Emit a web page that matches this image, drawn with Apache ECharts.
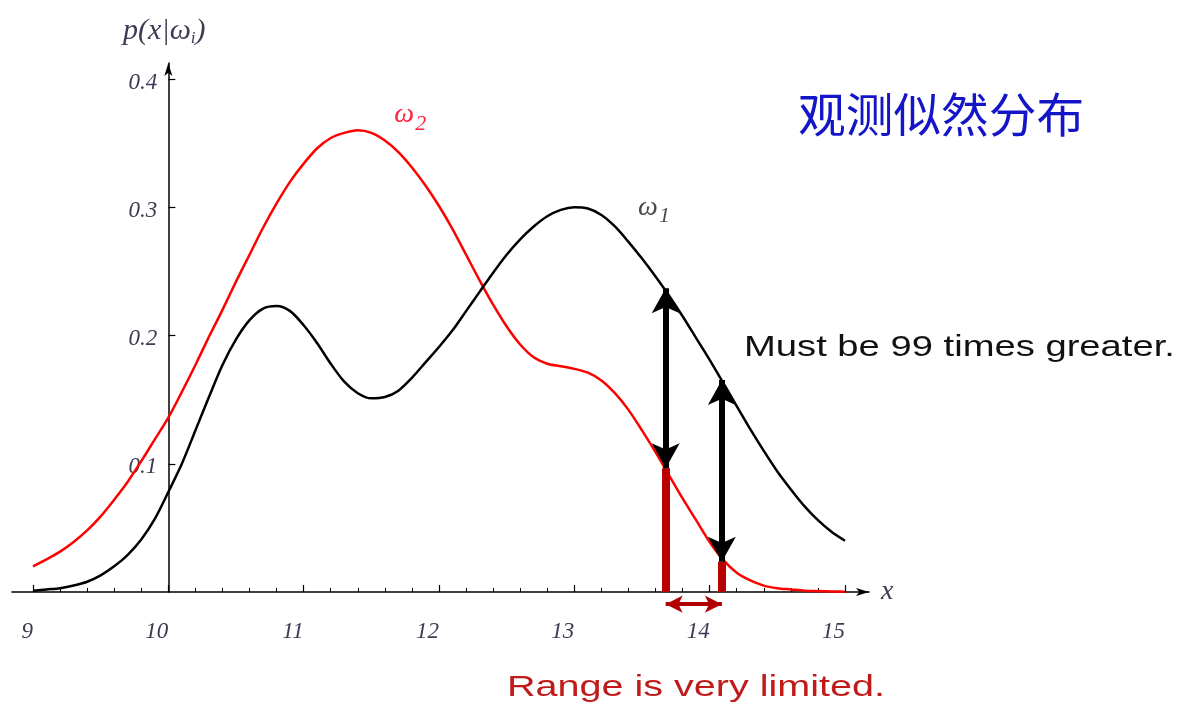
<!DOCTYPE html>
<html>
<head>
<meta charset="utf-8">
<script src="https://cdn.jsdelivr.net/npm/echarts@6/dist/echarts.min.js"></script>
<style>
html,body{margin:0;padding:0;background:#fff;}
#c{width:1187px;height:707px;}
</style>
</head>
<body>
<div id="c"></div>
<script>
// ---------- data ----------
const xValues = [9.0, 9.1, 9.2, 9.3, 9.4, 9.5, 9.6, 9.7, 9.8, 9.9,
                 10.0, 10.1, 10.2, 10.3, 10.4, 10.5, 10.6, 10.7, 10.8, 10.9,
                 11.0, 11.1, 11.2, 11.3, 11.4, 11.5, 11.6, 11.7, 11.8, 11.9,
                 12.0, 12.1, 12.2, 12.3, 12.4, 12.5, 12.6, 12.7, 12.8, 12.9,
                 13.0, 13.1, 13.2, 13.3, 13.4, 13.5, 13.6, 13.7, 13.8, 13.9,
                 14.0, 14.1, 14.2, 14.3, 14.4, 14.5, 14.6, 14.7, 14.8, 14.9, 15.0];
const omega1 = [0.001, 0.002, 0.003, 0.005, 0.008, 0.013, 0.020, 0.029, 0.041, 0.057,
                0.078, 0.100, 0.126, 0.152, 0.177, 0.197, 0.212, 0.221, 0.223, 0.219,
                0.208, 0.194, 0.178, 0.164, 0.155, 0.151, 0.152, 0.157, 0.167, 0.179,
                0.191, 0.204, 0.219, 0.234, 0.249, 0.263, 0.275, 0.285, 0.293, 0.298,
                0.300, 0.299, 0.294, 0.285, 0.273, 0.260, 0.246, 0.231, 0.215, 0.198,
                0.181, 0.163, 0.145, 0.127, 0.110, 0.094, 0.080, 0.067, 0.056, 0.047, 0.040];
const omega2 = [0.020, 0.0255, 0.0315, 0.039, 0.048, 0.059, 0.072, 0.086, 0.102, 0.119,
                0.136, 0.156, 0.177, 0.199, 0.220, 0.242, 0.263, 0.284, 0.303, 0.320,
                0.334, 0.346, 0.354, 0.358, 0.360, 0.358, 0.352, 0.343, 0.331, 0.317,
                0.301, 0.283, 0.263, 0.243, 0.224, 0.207, 0.193, 0.183, 0.178, 0.176,
                0.174, 0.171, 0.165, 0.155, 0.142, 0.126, 0.109, 0.091, 0.073, 0.056,
                0.039, 0.025, 0.015, 0.009, 0.005, 0.003, 0.002, 0.001, 0.0007, 0.0004, 0.0002];
const xTickLabels = ['9', '10', '11', '12', '13', '14', '15'];
const yTickLabels = ['0.1', '0.2', '0.3', '0.4'];
const markX = [13.675, 14.09];        // positions of the two comparisons
const markRed = [0.0965, 0.0236];     // omega2 value there
const markBlack = [0.2368, 0.1653];   // omega1 value there
const rangeArrowY = -0.0095;          // level of the "range" arrow below the axis
const omega2LabelAt = [11.67, 0.372];
const omega1LabelAt = [13.47, 0.300];

// ---------- layout ----------
const W = 1187, H = 707;
const X_MIN = 9, X_MAX = 15, Y_MAX = 0.4, Y_DATA_MIN = -0.04;
const plotL = 33, plotR = 845, plotT = 79, plotB = 592;
const pxPerX = (plotR - plotL) / (X_MAX - X_MIN);
const pxPerY = (plotB - plotT) / Y_MAX;
const yAxisPx = plotL + (10 - X_MIN) * pxPerX;
const labelColor = '#3c3c55';
const SERIF = '"Liberation Serif", "DejaVu Serif", serif';

const chart = echarts.init(document.getElementById('c'), null, {renderer: 'canvas', width: W, height: H});

const blackHead = [21, 25];
const redHead = [13, 17];

const hidden = (gi, min, max) => ({type: 'value', gridIndex: gi, show: false, min: min, max: max});

const option = {
  animation: false,
  backgroundColor: '#ffffff',
  grid: [
    {left: plotL, right: W - plotR, top: plotT, bottom: H - (plotB - Y_DATA_MIN * pxPerY)},
    {left: plotL, right: W - plotR, top: plotT, bottom: H - plotB},
    {left: 12, right: W - 869, top: plotT, bottom: H - plotB},
    {left: yAxisPx, width: 100, top: plotT, bottom: H - plotB},
    {left: yAxisPx, width: 10, top: 63, bottom: H - plotB}
  ],
  xAxis: [
    hidden(0, X_MIN, X_MAX),
    {
      type: 'value', gridIndex: 1, min: X_MIN, max: X_MAX, interval: 1, position: 'bottom',
      axisLine: {show: false, onZero: false},
      axisTick: {show: true, inside: true, length: 7, lineStyle: {color: '#000', width: 1.2}},
      minorTick: {show: true, splitNumber: 5, length: 4, lineStyle: {color: '#000', width: 1}},
      splitLine: {show: false}, minorSplitLine: {show: false},
      axisLabel: {
        show: true, margin: 28, align: 'right',
        formatter: v => xTickLabels[Math.round(v - X_MIN)] || '',
        fontFamily: SERIF, fontStyle: 'italic', fontSize: 23, color: labelColor
      }
    },
    {
      type: 'value', gridIndex: 2, min: 0, max: 1,
      axisLine: {show: true, onZero: false, symbol: ['none', 'arrow'], symbolSize: [6, 13],
                 lineStyle: {color: '#000', width: 1.5}},
      axisTick: {show: false}, axisLabel: {show: false}, splitLine: {show: false},
      name: 'x', nameLocation: 'end', nameGap: 12,
      nameTextStyle: {fontFamily: SERIF, fontStyle: 'italic', fontSize: 28, color: labelColor}
    },
    hidden(3, 0, 1),
    hidden(4, 0, 1)
  ],
  yAxis: [
    hidden(0, Y_DATA_MIN, Y_MAX),
    hidden(1, 0, 1),
    hidden(2, 0, 1),
    {
      type: 'value', gridIndex: 3, min: 0, max: Y_MAX, interval: 0.1, position: 'left',
      axisLine: {show: false, onZero: false},
      axisTick: {show: true, inside: true, length: 7, lineStyle: {color: '#000', width: 1.2}},
      splitLine: {show: false},
      axisLabel: {
        show: true, margin: 11, showMinLabel: false,
        formatter: v => {
          const t = yTickLabels[Math.round(v * 10) - 1];
          return t ? '{t|' + t + '}' : '';
        },
        rich: {
          t: {fontFamily: SERIF, fontStyle: 'italic', fontSize: 23, color: labelColor,
              lineHeight: 23, padding: [7, 0, 0, 0]}
        }
      }
    },
    {
      type: 'value', gridIndex: 4, min: 0, max: 1, position: 'left',
      axisLine: {show: true, onZero: false, symbol: ['none', 'arrow'], symbolSize: [6, 13],
                 lineStyle: {color: '#000', width: 1.5}},
      axisTick: {show: false}, axisLabel: {show: false}, splitLine: {show: false},
      name: '{a|p(x|ω}{b|i}{a|)}', nameLocation: 'end', nameGap: 16,
      nameTextStyle: {
        padding: [0, 8, 0, 0],
        rich: {
          a: {fontFamily: SERIF, fontStyle: 'italic', fontSize: 30, lineHeight: 32, color: labelColor},
          b: {fontFamily: SERIF, fontStyle: 'italic', fontSize: 17, lineHeight: 16, verticalAlign: 'bottom', color: labelColor}
        }
      }
    }
  ],
  series: [
    {
      name: 'ω2', type: 'line', xAxisIndex: 0, yAxisIndex: 0, z: 2,
      data: xValues.map((x, i) => [x, omega2[i]]),
      smooth: 0.3, showSymbol: false, symbol: 'none',
      lineStyle: {color: '#ff0000', width: 2.5}
    },
    {
      name: 'ω1', type: 'line', xAxisIndex: 0, yAxisIndex: 0, z: 3,
      data: xValues.map((x, i) => [x, omega1[i]]),
      smooth: 0.3, showSymbol: false, symbol: 'none',
      lineStyle: {color: '#000000', width: 2.5}
    },
    {
      name: 'bars', type: 'line', xAxisIndex: 0, yAxisIndex: 0, z: 4, data: [],
      markLine: {
        silent: true, animation: false, symbol: ['none', 'none'],
        label: {show: false},
        lineStyle: {color: '#b80000', width: 8, type: 'solid'},
        emphasis: {disabled: true},
        data: markX.map((x, i) => [{coord: [x, 0]}, {coord: [x, markRed[i]]}])
      }
    },
    {
      name: 'gaps', type: 'line', xAxisIndex: 0, yAxisIndex: 0, z: 5, data: [],
      markLine: {
        silent: true, animation: false, symbol: ['arrow', 'arrow'], symbolSize: blackHead,
        label: {show: false},
        lineStyle: {color: '#000000', width: 6, type: 'solid'},
        itemStyle: {color: '#000000'},
        emphasis: {disabled: true},
        data: markX.map((x, i) => [{coord: [x, markRed[i]]}, {coord: [x, markBlack[i]]}])
      }
    },
    {
      name: 'range', type: 'line', xAxisIndex: 0, yAxisIndex: 0, z: 5, data: [],
      markLine: {
        silent: true, animation: false, symbol: ['arrow', 'arrow'], symbolSize: redHead,
        label: {show: false},
        lineStyle: {color: '#b00000', width: 4, type: 'solid'},
        itemStyle: {color: '#b00000'},
        emphasis: {disabled: true},
        data: [[{coord: [markX[0], rangeArrowY]}, {coord: [markX[1], rangeArrowY]}]]
      }
    }
  ]
};
chart.setOption(option);

// annotations
const p2 = chart.convertToPixel({gridIndex: 0}, omega2LabelAt);
const p1 = chart.convertToPixel({gridIndex: 0}, omega1LabelAt);
const txt = (x, y, text, font, fill, scaleX, align) => ({
  type: 'text', x: x, y: y, scaleX: scaleX || 1, silent: true, z: 10,
  style: {text: text, font: font, fill: fill, align: align || 'left', verticalAlign: 'middle'}
});
chart.setOption({
  graphic: [
    txt(798, 114, '观测似然分布', '47px "Noto Sans CJK SC"', '#1414c8', 1.015),
    txt(744, 348, 'Must be 99 times greater.', '30px "Liberation Sans"', '#111111', 1.273),
    txt(507, 688, 'Range is very limited.', '30px "Liberation Sans"', '#c01a1a', 1.318),
    txt(p2[0], p2[1], 'ω', 'italic 28px "Liberation Serif"', '#ff2040', 1),
    txt(p2[0] + 21, p2[1] + 9, '2', 'italic 22px "Liberation Serif"', '#ff2040', 1),
    txt(p1[0], p1[1], 'ω', 'italic 28px "Liberation Serif"', '#4a4a4a', 1),
    txt(p1[0] + 21, p1[1] + 9, '1', 'italic 22px "Liberation Serif"', '#4a4a4a', 1)
  ]
});
</script>
</body>
</html>
